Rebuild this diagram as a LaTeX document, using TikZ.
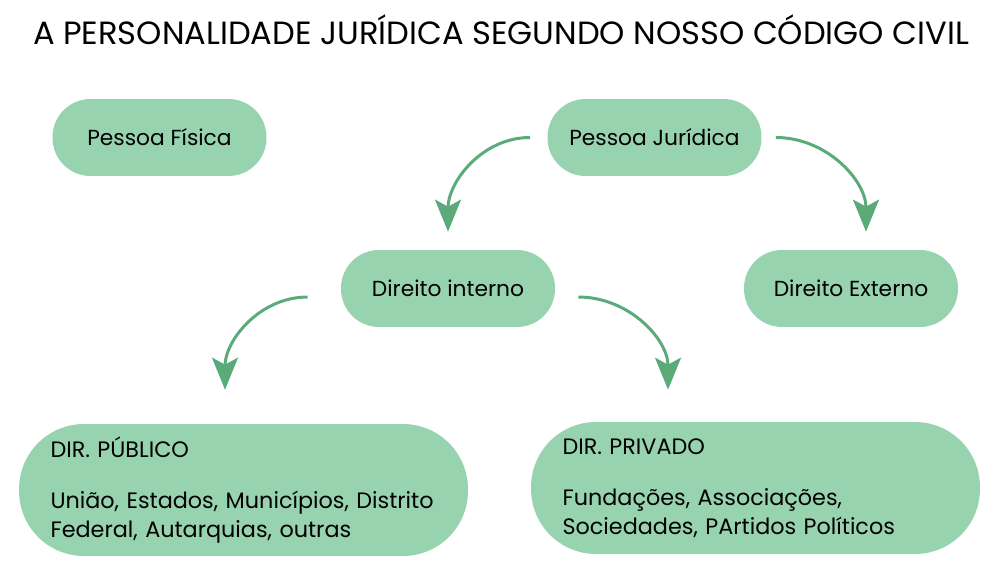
\documentclass[tikz,border=0pt]{standalone}
\usepackage{fontspec}
\setmainfont{Poppins}
\usetikzlibrary{arrows.meta, positioning}
\definecolor{verdeclaro}{RGB}{152,211,176}
\definecolor{verdeseta}{RGB}{91,170,122}

\begin{document}
\begin{tikzpicture}[x=0.02cm, y=-0.02cm, font=\fontsize{12.4}{16.4}\selectfont,
        caixa/.style={rectangle, rounded corners=0.76cm, fill=verdeclaro,
                    minimum width=4.28cm, minimum height=1.54cm, inner sep=0pt},
        caixagrande/.style={rectangle, rounded corners=1.3cm, fill=verdeclaro,
                    font=\fontsize{12.7}{16.4}\selectfont,
                    text width=7.72cm, minimum height=2.64cm, align=left, inner xsep=0.63cm},
        seta/.style={draw=verdeseta, line width=0.06cm,
                    -{Stealth[length=0.64cm, width=0.52cm, inset=0.14cm]}}
    ]
        \useasboundingbox (0,0) rectangle (1000,574);
        \node (titulo) at (501,30) {\fontsize{18.3}{22}\selectfont A PERSONALIDADE JURÍDICA SEGUNDO NOSSO CÓDIGO CIVIL};
        \node[caixa] (pf) at (159.5,137.5) {Pessoa Física};
        \node[caixa] (pj) at (654.5,137.5) {Pessoa Jurídica};
        \node[caixa] (di) at (448,288.5)   {Direito interno};
        \node[caixa] (de) at (851,288.5)   {Direito Externo};
        \node[caixagrande] (pub) at (243.5,490) {DIR. PÚBLICO\\[12.5pt]
            União, Estados, Municípios, Distrito\\ Federal, Autarquias, outras};
        \node[caixagrande] (priv) at (755.5,488) {DIR. PRIVADO\\[12.5pt]
            Fundações, Associações,\\ Sociedades, PArtidos Políticos};
        \draw[seta] ([xshift=-0.34cm]pj.west) to[out=180, in=90] ([yshift=0.36cm]di.north);
        \draw[seta] ([xshift=0.28cm]pj.east) to[out=0, in=90] ([xshift=0.3cm, yshift=0.36cm]de.north);
        \draw[seta] ([xshift=-0.66cm, yshift=-0.17cm]di.west) to[out=180, in=90] ([xshift=-0.37cm, yshift=0.68cm]pub.north);
        \draw[seta] ([xshift=0.46cm, yshift=-0.17cm]di.east) to[out=0, in=90] ([xshift=-1.75cm, yshift=0.64cm]priv.north);
    \end{tikzpicture}
\end{document}
